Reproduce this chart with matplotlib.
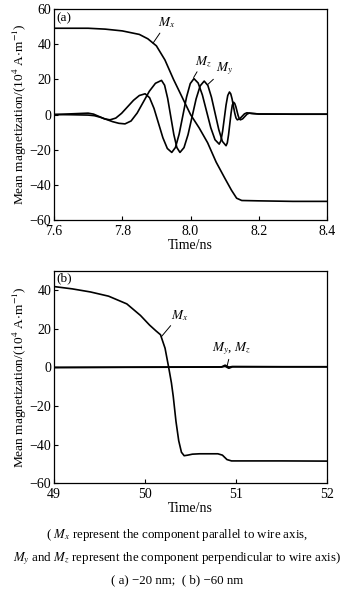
import matplotlib
matplotlib.use("Agg")
import matplotlib.pyplot as plt

plt.rcParams['font.family'] = ['Liberation Serif', 'DejaVu Serif']
plt.rcParams['mathtext.fontset'] = 'stix'

# panel (a): -20 nm wire
t_a_mx = [7.60, 7.70, 7.75, 7.80, 7.85, 7.875, 7.90, 7.925, 7.95, 7.975, 8.00,
          8.025, 8.05, 8.075, 8.10, 8.12, 8.135, 8.15, 8.20, 8.30, 8.40]
mx_a = [49, 49, 48.5, 47.5, 45.5, 43, 39, 31, 20, 10, 0,
        -7.5, -16, -27, -36, -43, -47.5, -48.8, -49, -49.3, -49.3]

t_a_mz = [7.60, 7.65, 7.70, 7.716, 7.732, 7.748, 7.764,
          7.781, 7.798, 7.8155, 7.833, 7.850, 7.867,
          7.880, 7.893, 7.906, 7.919, 7.932, 7.945,
          7.9558, 7.9667, 7.9775, 7.9883, 7.9992, 8.010,
          8.0223, 8.0347, 8.047, 8.0593, 8.0717, 8.084,
          8.089, 8.094, 8.099, 8.104, 8.109, 8.114,
          8.1178, 8.1217, 8.1255, 8.1293, 8.1332, 8.137,
          8.144, 8.151, 8.158, 8.165, 8.18, 8.20, 8.30, 8.40]
mz_a = [0, 0.4, 0.8, 0.24, -1.1, -2.44, -3,
        -2.01, 0.7, 4.4, 8.1, 10.81, 11.8,
        9.57, 3.48, -4.85, -13.18, -19.27, -21.5,
        -18.69, -11.03, -0.55, 9.93, 17.59, 20.4,
        17.91, 11.1, 1.8, -7.5, -14.31, -16.8,
        -14.82, -9.4, -2, 5.4, 10.82, 12.8,
        11.74, 8.85, 4.9, 0.95, -1.94, -3,
        -2.41, -1, 0.41, 1, 0.6, 0.3, 0.2, 0.2]

t_a_my = [7.60, 7.65, 7.70, 7.718, 7.736, 7.754, 7.772, 7.79, 7.808,
          7.8258, 7.8437, 7.8615, 7.8793, 7.8972, 7.915,
          7.924, 7.933, 7.942, 7.951, 7.96, 7.969,
          7.9808, 7.9927, 8.0045, 8.0163, 8.0282, 8.040,
          8.0507, 8.0613, 8.072, 8.0827, 8.0933, 8.104,
          8.1077, 8.1113, 8.115, 8.1187, 8.1223, 8.126,
          8.1293, 8.1327, 8.136, 8.1393, 8.1427, 8.146,
          8.1525, 8.159, 8.1655, 8.172, 8.19, 8.20, 8.30, 8.40]
my_a = [0, -0.1, -0.3, -0.63, -1.55, -2.8, -4.05, -4.97, -5.3,
        -3.65, 0.87, 7.05, 13.23, 17.75, 19.4,
        16.66, 9.18, -1.05, -11.28, -18.76, -21.5,
        -18.79, -11.38, -1.25, 8.88, 16.29, 19,
        16.54, 9.83, 0.65, -8.53, -15.24, -17.7,
        -16.05, -11.53, -5.35, 0.83, 5.35, 7,
        6.33, 4.5, 2, -0.5, -2.33, -3,
        -2.44, -1.1, 0.24, 0.8, 0.5, 0.3, 0.2, 0.2]

# panel (b): -60 nm wire
t_b_mx = [49.0, 49.2, 49.4, 49.6, 49.8, 49.95, 50.05, 50.12, 50.17, 50.22,
          50.26, 50.29, 50.31, 50.34, 50.37, 50.40, 50.43, 50.47, 50.52, 50.6,
          50.8, 50.85, 50.9, 50.95, 51.5, 52.0]
mx_b = [42, 40.8, 39.2, 37, 33, 27, 22, 19, 17, 10,
        0, -8, -15, -28, -38, -44, -45.8, -45.5, -45, -44.8,
        -44.8, -45.5, -47.8, -48.5, -48.5, -48.6]

t_b_myz = [49.0, 50.0, 50.84, 50.88, 50.92, 50.96, 51.5, 52.0]
my_b = [0, 0.2, 0.3, 1.2, 0.2, 0.5, 0.4, 0.4]
mz_b = [0, 0.1, 0.2, 0.6, -0.4, 0.3, 0.3, 0.3]

fig = plt.figure(figsize=(3.54, 5.92), dpi=100)
ax1 = fig.add_axes([0.1525, 0.628, 0.7715, 0.357])
ax2 = fig.add_axes([0.1525, 0.184, 0.7715, 0.358])

lw = 1.2
ax1.plot(t_a_mx, mx_a, color='k', lw=lw)
ax1.plot(t_a_mz, mz_a, color='k', lw=lw)
ax1.plot(t_a_my, my_a, color='k', lw=lw)
ax1.set_xlim(7.6, 8.4)
ax1.set_ylim(-60, 60)
ax1.set_xticks([7.6, 7.8, 8.0, 8.2, 8.4])
ax1.set_xticklabels(['7.6', '7.8', '8.0', '8.2', '8.4'])
ax1.set_yticks([-60, -40, -20, 0, 20, 40, 60])

ax2.plot(t_b_mx, mx_b, color='k', lw=lw)
ax2.plot(t_b_myz, my_b, color='k', lw=lw)
ax2.plot(t_b_myz, mz_b, color='k', lw=lw)
ax2.set_xlim(49, 52)
ax2.set_ylim(-60, 50)
ax2.set_xticks([49, 50, 51, 52])
ax2.set_yticks([-60, -40, -20, 0, 20, 40])

ylab = 'Mean magnetization/(10$^4$ A$\\cdot$m$^{-1}$)'
for ax in (ax1, ax2):
    ax.tick_params(direction='in', length=3, width=0.8, labelsize=10, pad=2)
    ax.tick_params(axis='x', pad=3.5)
    for s in ax.spines.values():
        s.set_linewidth(0.9)
    ax.set_xlabel('Time/ns', fontsize=10, labelpad=1)
    ax.set_ylabel(ylab, fontsize=9.6, labelpad=0)

ax1.text(0.01, 0.985, '(a)', transform=ax1.transAxes, fontsize=9.5, va='top', ha='left')
ax2.text(0.01, 0.995, '(b)', transform=ax2.transAxes, fontsize=9.5, va='top', ha='left')

arr = dict(arrowstyle='-', lw=0.7, color='k', shrinkA=0, shrinkB=0)
ax1.annotate('$M_x$', xy=(7.89, 40.5), xytext=(7.905, 52), fontsize=9.5,
             ha='left', va='center', arrowprops=arr)
ax1.annotate('$M_z$', xy=(8.009, 21), xytext=(8.012, 30), fontsize=9.5,
             ha='left', va='center', arrowprops=arr)
ax1.annotate('$M_y$', xy=(8.05, 17), xytext=(8.075, 26), fontsize=9.5,
             ha='left', va='center', arrowprops=arr)
ax2.annotate('$M_x$', xy=(50.18, 16), xytext=(50.28, 27), fontsize=9.5,
             ha='left', va='center', arrowprops=arr)
ax2.annotate('$M_y$, $M_z$', xy=(50.9, 0.5), xytext=(50.95, 10), fontsize=9.5,
             ha='center', va='center', arrowprops=arr)

fig.text(0.5, 0.096, '( $M_x$ represent the component parallel to wire axis,',
         ha='center', va='center', fontsize=9.3)
fig.text(0.5, 0.056, '$M_y$ and $M_z$ represent the component perpendicular to wire axis)',
         ha='center', va='center', fontsize=9.3)
fig.text(0.5, 0.019, '( a) \u221220 nm;  ( b) \u221260 nm',
         ha='center', va='center', fontsize=9.3)

fig.savefig('out.png', dpi=100)
